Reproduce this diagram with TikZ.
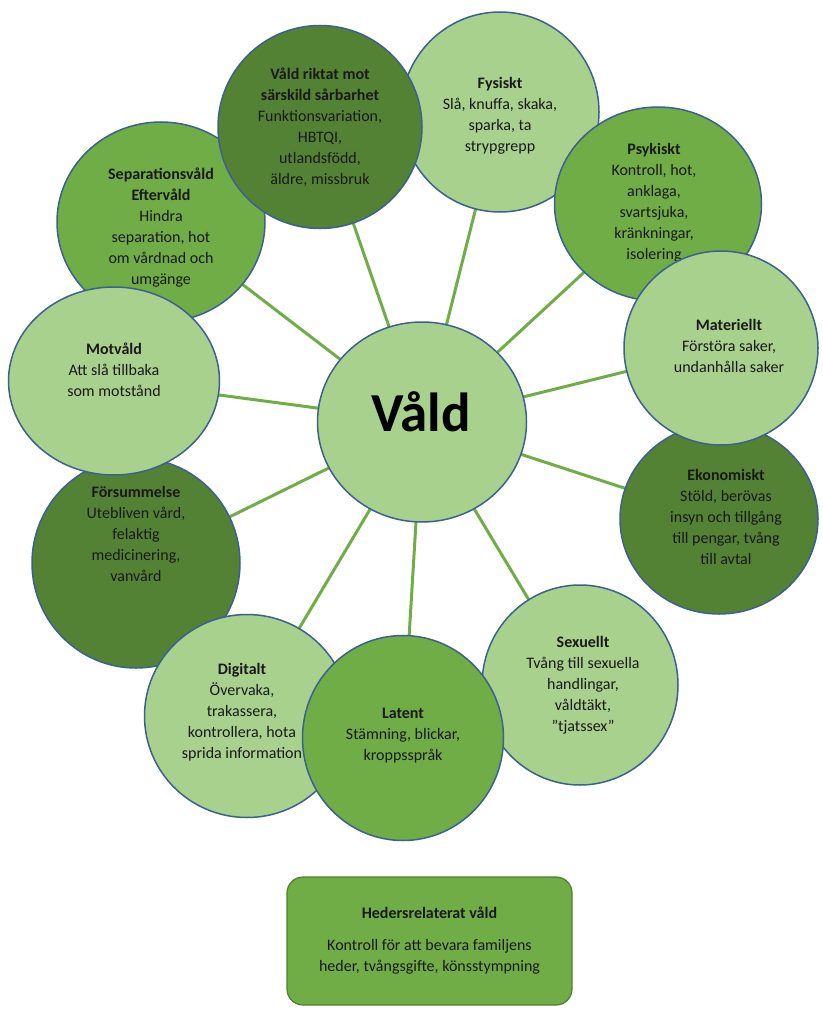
\documentclass[tikz,border=0pt]{standalone}
\usepackage{fontspec}
\setmainfont{Carlito}
\usetikzlibrary{shapes.geometric,backgrounds}
\definecolor{lg}{HTML}{A9D18E}
\definecolor{mg}{HTML}{70AD47}
\definecolor{dg}{HTML}{548235}
\definecolor{bd}{HTML}{3B6190}
\definecolor{ln}{HTML}{70AD47}
\definecolor{bx}{HTML}{507E32}
\tikzset{
  circ/.style 2 args={ellipse, draw=bd, line width=1.5pt, minimum width=#1, minimum height=#2, inner sep=0pt},
  txt/.style={align=center, inner sep=0pt, text=black!90, font=\fontsize{16}{21}\selectfont},
  spoke/.style={draw=ln, line width=3pt}
}
\begin{document}
\begin{tikzpicture}[x=1pt,y=-1pt]
\useasboundingbox (0,0) rectangle (822,1011);

% Fysiskt
\node[circ={198pt}{200pt}, fill=lg] (fys) at (500,112) {};
\node[txt] (fyst) at (500,116) {\textbf{Fysiskt}\\Slå, knuffa, skaka,\\sparka, ta\\strypgrepp};
% Separationsvåld
\node[circ={208pt}{200pt}, fill=mg] (sep) at (161,222) {};
\node[txt] (sept) at (161,228) {\textbf{Separationsvåld}\\\textbf{Eftervåld}\\Hindra\\separation, hot\\om vårdnad och\\umgänge};
% Våld riktat
\node[circ={204pt}{203pt}, fill=dg] (sar) at (320,127) {};
\node[txt] (sart) at (320,127) {\textbf{Våld riktat mot}\\\textbf{särskild sårbarhet}\\Funktionsvariation,\\HBTQI,\\utlandsfödd,\\äldre, missbruk};
% Psykiskt
\node[circ={207pt}{194pt}, fill=mg] (psy) at (658,204) {};
\node[txt] (psyt) at (654,203) {\textbf{Psykiskt}\\Kontroll, hot,\\anklaga,\\svartsjuka,\\kränkningar,\\isolering};
% Ekonomiskt
\node[circ={198pt}{190pt}, fill=dg] (eko) at (719,519) {};
\node[txt] (ekot) at (726,517) {\textbf{Ekonomiskt}\\Stöld, berövas\\insyn och tillgång\\till pengar, tvång\\till avtal};
% Materiellt
\node[circ={194pt}{194pt}, fill=lg] (mat) at (721,348) {};
\node[txt] (matt) at (729,346) {\textbf{Materiellt}\\Förstöra saker,\\undanhålla saker};
% Sexuellt
\node[circ={196pt}{200pt}, fill=lg] (sex) at (580,685) {};
\node[txt] (sext) at (583,685) {\textbf{Sexuellt}\\Tvång till sexuella\\handlingar,\\våldtäkt,\\”tjatssex”};
% Försummelse
\node[circ={208pt}{210pt}, fill=dg] (fors) at (136,563) {};
\node[txt] (forst) at (136,534) {\textbf{Försummelse}\\Utebliven vård,\\felaktig\\medicinering,\\vanvård};
% Motvåld
\node[circ={211pt}{188pt}, fill=lg] (mot) at (114,381) {};
\node[txt] (mott) at (114,370) {\textbf{Motvåld}\\Att slå tillbaka\\som motstånd};
% Digitalt
\node[circ={205pt}{203pt}, fill=lg] (dig) at (247,716) {};
\node[txt] (digt) at (242,712) {\textbf{Digitalt}\\Övervaka,\\trakassera,\\kontrollera, hota\\sprida information};
% Latent
\node[circ={201pt}{205pt}, fill=mg] (lat) at (403,738) {};
\node[txt] (latt) at (403,736) {\textbf{Latent}\\Stämning, blickar,\\kroppsspråk};
% Centre
\node[circ={209pt}{200pt}, fill=lg] (vald) at (422,422) {};
\node[inner sep=0pt, font=\fontsize{55}{55}\selectfont\bfseries] (valdt) at (421,412) {Våld};

\begin{pgfonlayer}{background}
\foreach \n in {fys,sep,sar,psy,eko,mat,sex,fors,mot,dig,lat}
  \draw[spoke] (vald.center) -- (\n.center);
\end{pgfonlayer}

% Box
\node[draw=bx, line width=1.2pt, fill=mg, rounded corners=16pt, minimum width=285pt, minimum height=128pt] (hed) at (429.5,941) {};
\node[txt, font=\fontsize{16}{21}\selectfont\bfseries] (hedt) at (429.5,913) {Hedersrelaterat våld};
\node[txt] (hedb) at (429.5,957) {Kontroll för att bevara familjens\\heder, tvångsgifte, könsstympning};
\end{tikzpicture}
\end{document}
